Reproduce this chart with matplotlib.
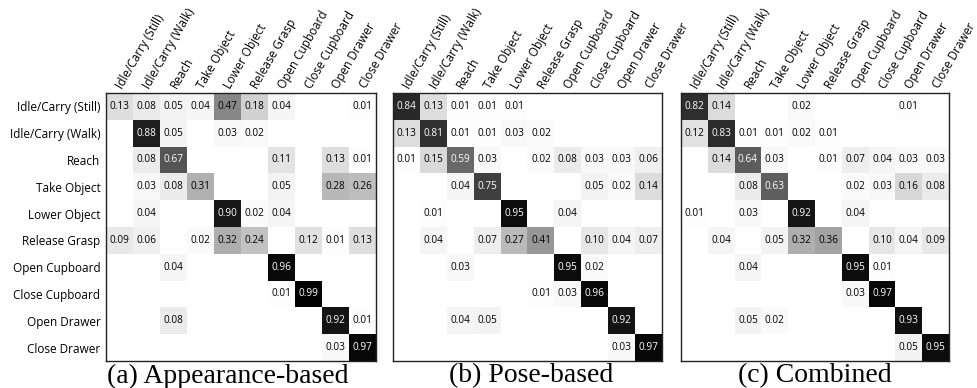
import numpy as np
import matplotlib
matplotlib.use("Agg")
import matplotlib.pyplot as plt

plt.rcParams['font.family'] = ['Open Sans', 'DejaVu Sans']

classes = ["Idle/Carry (Still)", "Idle/Carry (Walk)", "Reach", "Take Object",
           "Lower Object", "Release Grasp", "Open Cupboard", "Close Cupboard",
           "Open Drawer", "Close Drawer"]

# confusion matrices (rows = true class, cols = predicted), 0 = empty cell
appearance = [
    [0.13, 0.08, 0.05, 0.04, 0.47, 0.18, 0.04, 0, 0, 0.01],
    [0, 0.88, 0.05, 0, 0.03, 0.02, 0, 0, 0, 0],
    [0, 0.08, 0.67, 0, 0, 0, 0.11, 0, 0.13, 0.01],
    [0, 0.03, 0.08, 0.31, 0, 0, 0.05, 0, 0.28, 0.26],
    [0, 0.04, 0, 0, 0.90, 0.02, 0.04, 0, 0, 0],
    [0.09, 0.06, 0, 0.02, 0.32, 0.24, 0, 0.12, 0.01, 0.13],
    [0, 0, 0.04, 0, 0, 0, 0.96, 0, 0, 0],
    [0, 0, 0, 0, 0, 0, 0.01, 0.99, 0, 0],
    [0, 0, 0.08, 0, 0, 0, 0, 0, 0.92, 0.01],
    [0, 0, 0, 0, 0, 0, 0, 0, 0.03, 0.97],
]
pose = [
    [0.84, 0.13, 0.01, 0.01, 0.01, 0, 0, 0, 0, 0],
    [0.13, 0.81, 0.01, 0.01, 0.03, 0.02, 0, 0, 0, 0],
    [0.01, 0.15, 0.59, 0.03, 0, 0.02, 0.08, 0.03, 0.03, 0.06],
    [0, 0, 0.04, 0.75, 0, 0, 0, 0.05, 0.02, 0.14],
    [0, 0.01, 0, 0, 0.95, 0, 0.04, 0, 0, 0],
    [0, 0.04, 0, 0.07, 0.27, 0.41, 0, 0.10, 0.04, 0.07],
    [0, 0, 0.03, 0, 0, 0, 0.95, 0.02, 0, 0],
    [0, 0, 0, 0, 0, 0.01, 0.03, 0.96, 0, 0],
    [0, 0, 0.04, 0.05, 0, 0, 0, 0, 0.92, 0],
    [0, 0, 0, 0, 0, 0, 0, 0, 0.03, 0.97],
]
combined = [
    [0.82, 0.14, 0, 0, 0.02, 0, 0, 0, 0.01, 0],
    [0.12, 0.83, 0.01, 0.01, 0.02, 0.01, 0, 0, 0, 0],
    [0, 0.14, 0.64, 0.03, 0, 0.01, 0.07, 0.04, 0.03, 0.03],
    [0, 0, 0.08, 0.63, 0, 0, 0.02, 0.03, 0.16, 0.08],
    [0.01, 0, 0.03, 0, 0.92, 0, 0.04, 0, 0, 0],
    [0, 0.04, 0, 0.05, 0.32, 0.36, 0, 0.10, 0.04, 0.09],
    [0, 0, 0.04, 0, 0, 0, 0.95, 0.01, 0, 0],
    [0, 0, 0, 0, 0, 0, 0.03, 0.97, 0, 0],
    [0, 0, 0.05, 0.02, 0, 0, 0, 0, 0.93, 0],
    [0, 0, 0, 0, 0, 0, 0, 0, 0.05, 0.95],
]
captions = ["(a) Appearance-based", "(b) Pose-based", "(c) Combined"]

W, H = 977, 388
fig = plt.figure(figsize=(W / 100, H / 100), dpi=100)

# pixel boxes of each matrix: left, top, right, bottom
boxes = [(106, 93, 376, 361), (393, 93, 662, 361), (681, 93, 949, 361)]
cap_x = [228, 531, 815]

for k, (mat, cap) in enumerate(zip([appearance, pose, combined], captions)):
    l, t, r, b = boxes[k]
    ax = fig.add_axes([l / W, 1 - b / H, (r - l) / W, (b - t) / H])
    m = np.array(mat)
    ax.imshow(m, cmap="gray_r", vmin=0, vmax=1, aspect="auto",
              interpolation="nearest")
    for i in range(m.shape[0]):
        for j in range(m.shape[1]):
            v = m[i, j]
            if v > 0:
                ax.text(j, i, "%.2f" % v, ha="center", va="center",
                        fontsize=7.2, color="white" if v > 0.5 else "black")
    ax.xaxis.tick_top()
    ax.set_xticks(range(len(classes)))
    ax.set_xticklabels(classes, rotation=60, ha="left", va="center",
                       rotation_mode="anchor", fontsize=8.5)
    ax.set_yticks(range(len(classes)))
    if k == 0:
        ax.set_yticklabels(classes, fontsize=8.5)
    else:
        ax.set_yticklabels([])
    ax.tick_params(length=0, pad=4)
    for s in ax.spines.values():
        s.set_linewidth(1.0)
        s.set_color("#222222")
    fig.text(cap_x[k] / W, 1 - 376 / H, cap, ha="center", va="center",
             fontsize=20, family="Liberation Serif")

fig.savefig("out.png", dpi=100)
